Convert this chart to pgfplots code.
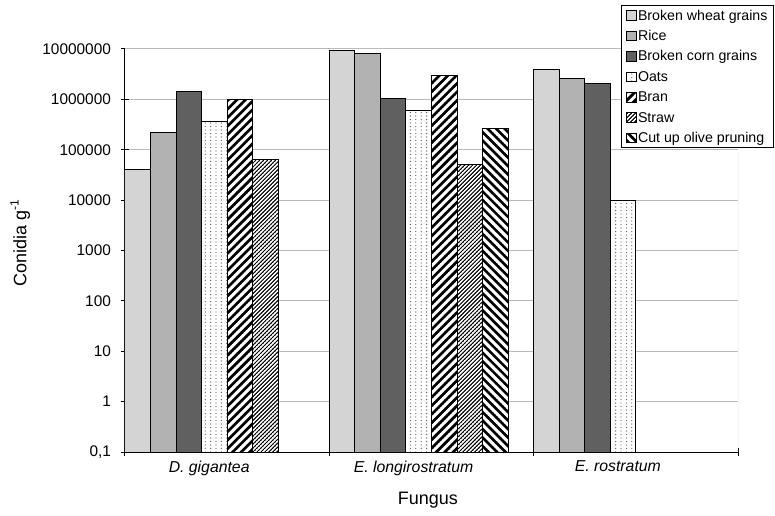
\documentclass[border=0pt]{standalone}
\usepackage{fontspec}
\setmainfont{Liberation Sans}
\usepackage{pgfplots}
\pgfplotsset{compat=1.18}
\usetikzlibrary{patterns.meta}

\definecolor{wheat}{RGB}{212,212,212}
\definecolor{rice}{RGB}{178,178,178}
\definecolor{corn}{RGB}{96,96,96}
\definecolor{gridgray}{RGB}{185,185,185}

\tikzdeclarepattern{
  name=branlines, type=uncolored,
  bounding box={(-0.1pt,-0.8pt) and (3.1pt,0.8pt)},
  tile size={(3pt,3pt)},
  tile transformation={rotate=45},
  code={\draw[line width=1.35pt] (-0.1pt,0pt) -- (3.1pt,0pt);}
}
\tikzdeclarepattern{
  name=strawlines, type=uncolored,
  bounding box={(-0.1pt,-0.3pt) and (1.5pt,0.3pt)},
  tile size={(1.4pt,1.4pt)},
  tile transformation={rotate=45},
  code={\draw[line width=0.5pt] (-0.1pt,0pt) -- (1.5pt,0pt);}
}
\tikzdeclarepattern{
  name=olivelines, type=uncolored,
  bounding box={(-0.1pt,-0.8pt) and (3.1pt,0.8pt)},
  tile size={(3pt,3pt)},
  tile transformation={rotate=-45},
  code={\draw[line width=1.3pt] (-0.1pt,0pt) -- (3.1pt,0pt);}
}
\tikzdeclarepattern{
  name=oatdots, type=uncolored,
  bounding box={(-0.4pt,-0.4pt) and (0.4pt,0.4pt)},
  tile size={(2.7pt,1.75pt)},
  code={\fill (0pt,0pt) circle (0.33pt);}
}

\pgfplotsset{
  mylegend/.style={legend image code/.code={\draw[##1, line width=0.4pt] (0pt,-2.4pt) rectangle (4.8pt,2.4pt);}},
}

\begin{document}
\begin{tikzpicture}
\useasboundingbox (-62.5pt,-31.5pt) rectangle (325pt,226pt);
\begin{axis}[
  at={(0pt,0pt)}, anchor=south west,
  scale only axis,
  width=306.5pt, height=201.5pt,
  ymode=log, log origin=infty,
  ymin=0.1, ymax=1e7,
  xmin=-0.5, xmax=2.5,
  axis x line*=bottom, axis y line*=left,
  axis line style={black, line width=0.5pt},
  ytick={0.1,1,10,100,1000,10000,100000,1000000,10000000},
  yticklabels={{0,1},1,10,100,1000,10000,100000,1000000,10000000},
  yticklabel style={font=\fontsize{7.7}{9}\selectfont, xshift=-1.5pt},
  /pgf/number format/assume math mode=true,
  yminorticks=false,
  ymajorgrids,
  major grid style={gridgray, line width=0.5pt},
  xtick={-0.5,0.5,1.5,2.5},
  xticklabels={},
  extra x ticks={-0.088,0.912,1.912},
  extra x tick labels={D. gigantea, E. longirostratum, E. rostratum},
  extra x tick style={major tick length=0pt, grid=none},
  xticklabel style={font=\fontsize{7.9}{9}\selectfont\itshape, yshift=-1pt},
  tick align=center,
  major tick length=4pt,
  tick style={black, line width=0.5pt},
  xlabel={Fungus},
  ylabel={Conidia g\textsuperscript{-1}},
  xlabel style={font=\fontsize{9}{11}\selectfont, at={(axis description cs:0.494,-0.119)}, anchor=center},
  ylabel style={font=\fontsize{9}{11}\selectfont, at={(axis description cs:-0.171,0.519)}, anchor=center, rotate=0},
  legend cell align=left,
  legend style={at={(axis description cs:0.809,1.109)}, anchor=north west,
    draw=black, line width=0.5pt, fill=white,
    font=\fontsize{7.1}{8}\selectfont,
    inner xsep=2.5pt, inner ysep=0.5pt, row sep=1.2pt,
    nodes={inner sep=0.6pt, text height=6.2pt, text depth=1.6pt}},
]
\addplot[ybar, bar width=0.125, fill=wheat, draw=black, line width=0.5pt, mylegend]
  coordinates {(-0.4375,40000) (0.5625,9300000) (1.5625,4000000)};
\addlegendentry{Broken wheat grains}
\addplot[ybar, bar width=0.125, fill=rice, draw=black, line width=0.5pt, mylegend]
  coordinates {(-0.3125,222000) (0.6875,8200000) (1.6875,2540000)};
\addlegendentry{Rice}
\addplot[ybar, bar width=0.125, fill=corn, draw=black, line width=0.5pt, mylegend]
  coordinates {(-0.1875,1420000) (0.8125,1060000) (1.8125,2050000)};
\addlegendentry{Broken corn grains}
\addplot[ybar, bar width=0.125, fill=white, draw=black, line width=0.5pt, postaction={pattern=oatdots, pattern color=black!60}, mylegend]
  coordinates {(-0.0625,366000) (0.9375,596000) (1.9375,10000)};
\addlegendentry{Oats}
\addplot[ybar, bar width=0.125, fill=white, draw=black, line width=0.5pt, postaction={pattern=branlines, pattern color=black}, mylegend]
  coordinates {(0.0625,1000000) (1.0625,3000000)};
\addlegendentry{Bran}
\addplot[ybar, bar width=0.125, fill=white, draw=black, line width=0.5pt, postaction={pattern=strawlines, pattern color=black}, mylegend]
  coordinates {(0.1875,64600) (1.1875,52100)};
\addlegendentry{Straw}
\addplot[ybar, bar width=0.125, fill=white, draw=black, line width=0.5pt, postaction={pattern=olivelines, pattern color=black}, mylegend]
  coordinates {(1.3125,266000)};
\addlegendentry{Cut up olive pruning}
\draw[gridgray, line width=0.5pt] (rel axis cs:0,1) -- (rel axis cs:1,1) -- (rel axis cs:1,0);
\end{axis}
\end{tikzpicture}
\end{document}
